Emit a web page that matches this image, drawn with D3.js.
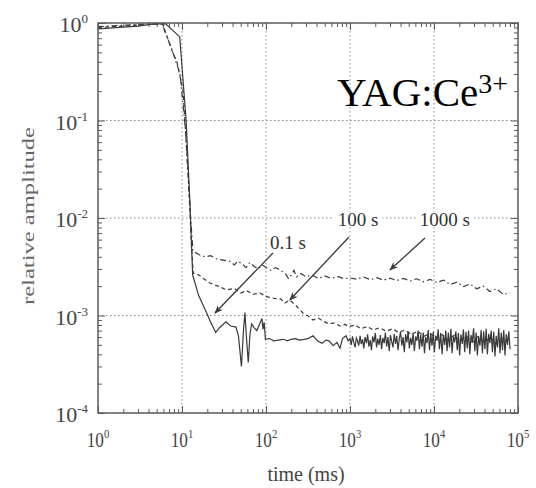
<!DOCTYPE html>
<html>
<head>
<meta charset="utf-8">
<script src="https://cdn.jsdelivr.net/npm/d3@7"></script>
<style>
  body { margin: 0; background: #fff; }
  svg { display: block; font-family: "Liberation Serif", "Times New Roman", serif; }
</style>
</head>
<body>
<div id="chart"></div>
<script>
// tick labels (base 10, exponent as superscript)
const xMajor = [1, 10, 100, 1000, 10000, 100000];
const xExp = ["0", "1", "2", "3", "4", "5"];
const yMajor = [1, 0.1, 0.01, 0.001, 0.0001];
const yExp = ["0", "-1", "-2", "-3", "-4"];

// series: [time (ms), relative amplitude]
// 0.1 s  (solid)
const curve01s = [
  [1, 0.87], [1.8, 0.90], [3, 0.93], [4.2, 0.97], [5.2, 0.98], [6.4, 0.98],
  [9.4, 0.72], [11.2, 0.10], [12.4, 0.015], [13.4, 0.0026], [15.8, 0.0016],
  [19.8, 0.00105], [22, 0.00085], [25.2, 0.00067], [28, 0.00075], [33.4, 0.00086],
  [38, 0.00078], [43.9, 0.00076], [47, 0.00062], [51, 0.00030], [54, 0.00072],
  [56.1, 0.00107], [58.5, 0.00060], [61.5, 0.00033], [64.5, 0.00065], [67.6, 0.00082],
  [72, 0.00075], [77.6, 0.00070], [83, 0.00080], [89.6, 0.00093], [92, 0.00072],
  [95, 0.00085], [98.4, 0.00057], [110, 0.00058], [124, 0.00055], [140, 0.00056],
  [160, 0.00057], [180, 0.00055], [199, 0.00057], [225, 0.00058], [250, 0.00056],
  [285, 0.00057], [316, 0.00058], [363, 0.00062], [410, 0.00055], [464, 0.00052],
  [520, 0.00056], [562, 0.00055], [630, 0.00049], [700, 0.00053], [760, 0.00046],
  [813, 0.00058], [896, 0.00062], [950, 0.00055],
  [1000, 0.00058], [1035, 0.00050], [1070, 0.00061], [1110, 0.00053], [1150, 0.00047],
  [1190, 0.00059], [1230, 0.00055], [1270, 0.00049], [1320, 0.00062], [1360, 0.00051],
  [1410, 0.00057], [1460, 0.00046], [1510, 0.00060], [1570, 0.00052], [1620, 0.00064],
  [1680, 0.00048], [1740, 0.00056], [1800, 0.00044], [1860, 0.00061], [1930, 0.00053],
  [2000, 0.00066], [2070, 0.00047], [2140, 0.00058], [2220, 0.00050], [2300, 0.00063],
  [2380, 0.00045], [2460, 0.00059], [2550, 0.00052], [2640, 0.00067], [2730, 0.00048],
  [2830, 0.00060], [2930, 0.00043], [3030, 0.00063], [3140, 0.00054], [3250, 0.00047],
  [3360, 0.00065], [3480, 0.00051], [3600, 0.00062], [3730, 0.00044], [3860, 0.00058],
  [4000, 0.00068], [4140, 0.00049], [4280, 0.00060], [4430, 0.00042], [4590, 0.00064],
  [4750, 0.00053], [4920, 0.00069], [5090, 0.00046], [5270, 0.00059], [5450, 0.00050],
  [5640, 0.00066], [5840, 0.00043], [6050, 0.00061], [6260, 0.00055], [6480, 0.00070],
  [6710, 0.00045], [6940, 0.00063], [7190, 0.00048], [7440, 0.00067], [7700, 0.00041],
  [7970, 0.00060], [8250, 0.00052], [8540, 0.00071], [8840, 0.00044], [9150, 0.00065],
  [9470, 0.00049], [9800, 0.00068], [10100, 0.00042], [10500, 0.00062], [10900, 0.00055],
  [11200, 0.00072], [11600, 0.00045], [12000, 0.00066], [12500, 0.00040], [12900, 0.00063],
  [13400, 0.00050], [13800, 0.00070], [14300, 0.00043], [14800, 0.00067], [15300, 0.00047],
  [15900, 0.00073], [16400, 0.00041], [17000, 0.00061], [17600, 0.00053], [18200, 0.00069],
  [18900, 0.00044], [19500, 0.00066], [20200, 0.00039], [20900, 0.00064], [21700, 0.00051],
  [22400, 0.00072], [23200, 0.00042], [24000, 0.00068], [24900, 0.00046], [25800, 0.00070],
  [26700, 0.00040], [27600, 0.00063], [28600, 0.00054], [29600, 0.00074], [30600, 0.00043],
  [31700, 0.00067], [32800, 0.00039], [34000, 0.00061], [35200, 0.00049], [36400, 0.00071],
  [37700, 0.00041], [39000, 0.00069], [40400, 0.00045], [41800, 0.00073], [43200, 0.00040],
  [44800, 0.00065], [46300, 0.00052], [47900, 0.00070], [49600, 0.00042], [51400, 0.00068],
  [53200, 0.00038], [55000, 0.00062], [57000, 0.00047], [59000, 0.00074], [61000, 0.00041],
  [63200, 0.00067], [65400, 0.00044], [67700, 0.00071], [70000, 0.00039], [72500, 0.00064],
  [75000, 0.00050], [77700, 0.00069], [80400, 0.00045]
];

// 100 s  (dashed)
const curve100s = [
  [1, 0.90], [2, 0.93], [3.5, 0.96], [5, 0.99], [5.9, 0.97], [7.8, 0.49],
  [8.7, 0.40], [10.3, 0.20], [11.8, 0.03], [13, 0.005], [13.6, 0.0027],
  [15, 0.0027], [18, 0.0024], [21.6, 0.00215], [27, 0.0020], [34, 0.00183],
  [42, 0.0019], [50, 0.0017], [59, 0.0018], [70, 0.00165], [85, 0.0017],
  [101, 0.00156], [125, 0.0015], [150, 0.00148], [168, 0.00134], [192, 0.00144],
  [230, 0.00125], [275, 0.00106], [320, 0.00098], [363, 0.00090], [420, 0.00094],
  [473, 0.00088], [560, 0.00082], [650, 0.00084], [760, 0.00078], [870, 0.00081],
  [972, 0.00077], [1150, 0.00080], [1350, 0.00073], [1600, 0.00077], [1900, 0.00071],
  [2250, 0.00075], [2700, 0.00069], [3200, 0.00073], [3800, 0.00067], [4500, 0.00071],
  [5400, 0.00064], [6400, 0.00069], [7600, 0.00061], [9000, 0.00066], [10500, 0.00058],
  [12500, 0.00064], [14700, 0.00056], [17500, 0.00063], [20500, 0.00054], [24000, 0.00062],
  [28500, 0.00053], [33500, 0.00061], [39500, 0.00052], [46500, 0.00060], [55000, 0.00051],
  [65000, 0.00059], [77000, 0.00052]
];

// 1000 s  (dash-dot)
const curve1000s = [
  [1, 0.92], [2.2, 0.95], [4, 0.98], [5.8, 0.97], [7.5, 0.55], [9.5, 0.30],
  [11, 0.08], [12.5, 0.012], [13.5, 0.0046], [16, 0.0042], [19, 0.0040], [22, 0.0041],
  [26, 0.0038], [31, 0.0037], [37, 0.0036], [42, 0.0033], [46, 0.0036], [52, 0.0034],
  [58, 0.0031], [64, 0.0035], [72, 0.0032], [80, 0.0030], [90, 0.0033], [101, 0.0031],
  [115, 0.0029], [130, 0.0031], [150, 0.0029], [170, 0.0027], [185, 0.0024], [200, 0.0026],
  [215, 0.0029], [232, 0.0025], [260, 0.0027], [300, 0.0025], [350, 0.0026], [420, 0.0024],
  [500, 0.00255], [600, 0.0024], [720, 0.0025], [850, 0.00238], [1000, 0.00243],
  [1200, 0.00236], [1450, 0.00248], [1750, 0.00233], [2100, 0.00244], [2500, 0.00230],
  [3000, 0.00242], [3600, 0.00228], [4300, 0.00240], [5200, 0.00226], [6200, 0.00238],
  [7500, 0.00222], [9000, 0.00235], [10800, 0.00218], [13000, 0.00230], [15600, 0.00208],
  [18700, 0.00220], [22400, 0.00198], [26900, 0.00211], [32300, 0.00188], [38700, 0.00200],
  [46400, 0.00176], [55700, 0.00188], [66800, 0.00164], [80000, 0.00172]
];

// annotations in data units
const curveLabels = [
  { text: "0.1 s", t: 183, a: 0.0056, bg: false },
  { text: "100 s", t: 1245, a: 0.0098, bg: true },
  { text: "1000 s", t: 13500, a: 0.0098, bg: true }
];
const arrows = [
  { from: [121, 0.00438], to: [24.7, 0.00106] },
  { from: [973, 0.00638], to: [192, 0.00144] },
  { from: [7810, 0.00624], to: [2993, 0.00293] }
];

const W = 536, H = 488;
const margin = { top: 23, right: 18, bottom: 75, left: 98 };
const width = W - margin.left - margin.right;   // 420
const height = H - margin.top - margin.bottom;  // 390
const ink = "#3a3a3a", axisCol = "#5a5a5a";

const svg = d3.select("#chart").append("svg")
  .attr("width", W).attr("height", H);

const defs = svg.append("defs");
defs.append("marker")
  .attr("id", "head")
  .attr("viewBox", "0 0 10 8")
  .attr("refX", 9).attr("refY", 4)
  .attr("markerWidth", 9).attr("markerHeight", 7)
  .attr("markerUnits", "userSpaceOnUse")
  .attr("orient", "auto")
  .append("path").attr("d", "M0,0 L10,4 L0,8 L3,4 z").attr("fill", ink);

const g = svg.append("g")
  .attr("transform", "translate(" + margin.left + "," + margin.top + ")");

const x = d3.scaleLog().domain([1, 1e5]).range([0, width]);
const y = d3.scaleLog().domain([1e-4, 1]).range([height, 0]);

const isMajor = v => Math.abs(Math.log10(v) - Math.round(Math.log10(v))) < 1e-9;
const xMinor = x.ticks().filter(v => !isMajor(v));
const yMinor = y.ticks().filter(v => !isMajor(v));

// grid (dotted, decades only)
g.append("g").selectAll("line")
  .data(xMajor.slice(1, -1)).enter().append("line")
  .attr("x1", d => x(d)).attr("x2", d => x(d))
  .attr("y1", 0).attr("y2", height)
  .attr("stroke", "#8a8a8a").attr("stroke-width", 1)
  .attr("stroke-dasharray", "1.5,2.5");
g.append("g").selectAll("line")
  .data(yMajor.slice(1, -1)).enter().append("line")
  .attr("y1", d => y(d)).attr("y2", d => y(d))
  .attr("x1", 0).attr("x2", width)
  .attr("stroke", "#8a8a8a").attr("stroke-width", 1)
  .attr("stroke-dasharray", "1.5,2.5");

// inward ticks on all four sides
function ticks(axisGen, vals, size, tr) {
  const a = g.append("g").attr("transform", tr)
    .call(axisGen.tickValues(vals).tickSize(-size).tickFormat(""));
  a.select(".domain").remove();
  a.selectAll("line").attr("stroke", axisCol).attr("stroke-width", 1);
}
ticks(d3.axisBottom(x), xMajor, 7, "translate(0," + height + ")");
ticks(d3.axisBottom(x), xMinor, 4, "translate(0," + height + ")");
ticks(d3.axisTop(x), xMajor, 7, "translate(0,0)");
ticks(d3.axisTop(x), xMinor, 4, "translate(0,0)");
ticks(d3.axisLeft(y), yMajor, 7, "translate(0,0)");
ticks(d3.axisLeft(y), yMinor, 4, "translate(0,0)");
ticks(d3.axisRight(y), yMajor, 7, "translate(" + width + ",0)");
ticks(d3.axisRight(y), yMinor, 4, "translate(" + width + ",0)");

// curves
const line = d3.line().x(d => x(d[0])).y(d => y(d[1]));
g.append("path").attr("d", line(curve1000s))
  .attr("fill", "none").attr("stroke", ink).attr("stroke-width", 1.2)
  .attr("stroke-dasharray", "6,3,1.5,3");
g.append("path").attr("d", line(curve100s))
  .attr("fill", "none").attr("stroke", ink).attr("stroke-width", 1.2)
  .attr("stroke-dasharray", "4,3");
g.append("path").attr("d", line(curve01s))
  .attr("fill", "none").attr("stroke", ink).attr("stroke-width", 1.2);

// frame
g.append("rect").attr("width", width).attr("height", height)
  .attr("fill", "none").attr("stroke", axisCol).attr("stroke-width", 1.5);

// tick labels
xMajor.forEach((v, i) => {
  const t = g.append("text")
    .attr("transform", "translate(" + x(v) + "," + (height + 34) + ") scale(0.82,1)")
    .attr("text-anchor", "middle").attr("fill", "#444").attr("font-size", 21);
  t.append("tspan").text("10");
  t.append("tspan").attr("dy", -9).attr("font-size", 13).text(xExp[i]);
});
yMajor.forEach((v, i) => {
  const t = g.append("text")
    .attr("transform", "translate(-10," + (y(v) + 9) + ")")
    .attr("text-anchor", "end").attr("fill", "#444").attr("font-size", 22);
  t.append("tspan").text("10");
  t.append("tspan").attr("dy", -9).attr("font-size", 13).text(yExp[i]);
});

// axis titles
svg.append("text")
  .attr("x", margin.left + width / 2 - 2).attr("y", 481)
  .attr("text-anchor", "middle").attr("fill", "#444").attr("font-size", 20)
  .text("time (ms)");
svg.append("text")
  .attr("transform", "translate(34,216) rotate(-90)")
  .attr("text-anchor", "middle").attr("fill", "#666").attr("font-size", 17)
  .attr("textLength", 178).attr("lengthAdjust", "spacingAndGlyphs")
  .text("relative amplitude");

// material label
const yag = g.append("text")
  .attr("x", x(700)).attr("y", y(0.141))
  .attr("fill", "#000").attr("font-size", 41);
yag.append("tspan").text("YAG:Ce");
yag.append("tspan").attr("dy", -13).attr("font-size", 28).text("3+");

// arrows
g.append("g").selectAll("line")
  .data(arrows).enter().append("line")
  .attr("x1", d => x(d.from[0])).attr("y1", d => y(d.from[1]))
  .attr("x2", d => x(d.to[0])).attr("y2", d => y(d.to[1]))
  .attr("stroke", ink).attr("stroke-width", 1.3)
  .attr("marker-end", "url(#head)");

// curve labels
curveLabels.forEach(d => {
  const lg = g.append("g");
  const t = lg.append("text")
    .attr("x", x(d.t)).attr("y", y(d.a)).attr("dy", "0.35em")
    .attr("text-anchor", "middle").attr("fill", "#333").attr("font-size", 19)
    .text(d.text);
  if (d.bg) {
    const b = t.node().getBBox();
    lg.insert("rect", "text")
      .attr("x", b.x - 4).attr("y", b.y + 3)
      .attr("width", b.width + 8).attr("height", b.height - 6)
      .attr("fill", "#fff");
  }
});
</script>
</body>
</html>
